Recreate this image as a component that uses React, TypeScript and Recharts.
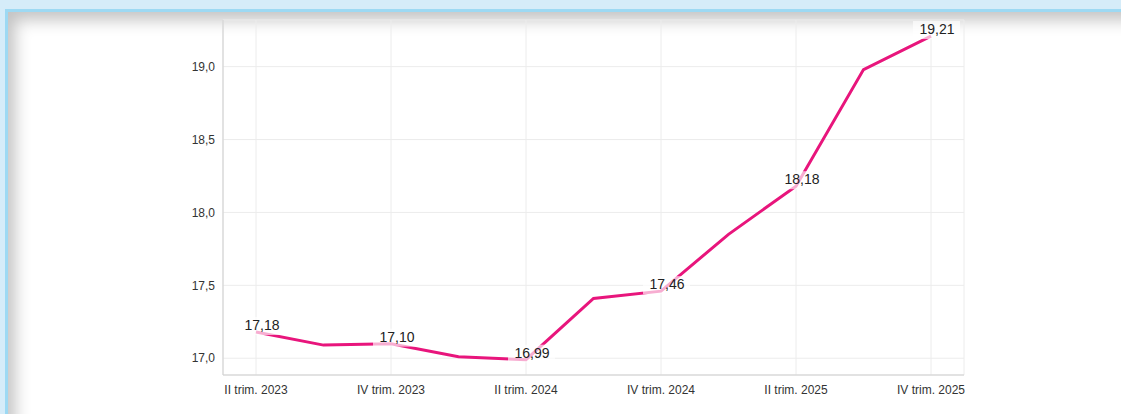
import { LineChart, Line, XAxis, YAxis, CartesianGrid } from 'recharts';

const QUARTERS = [
  'II trim. 2023', 'III trim. 2023', 'IV trim. 2023', 'I trim. 2024',
  'II trim. 2024', 'III trim. 2024', 'IV trim. 2024', 'I trim. 2025',
  'II trim. 2025', 'III trim. 2025', 'IV trim. 2025',
];
const VALUES = [17.18, 17.09, 17.1, 17.01, 16.99, 17.41, 17.46, 17.85, 18.18, 18.98, 19.21];
const X_TICKS = ['II trim. 2023', 'IV trim. 2023', 'II trim. 2024', 'IV trim. 2024', 'II trim. 2025', 'IV trim. 2025'];
const Y_TICKS = [17, 17.5, 18, 18.5, 19];

const data = QUARTERS.map((q, i) => ({ q, v: VALUES[i] }));

const fmt = (v: number, d: number) => v.toFixed(d).replace('.', ',');

// only every other point gets a label, on a soft white box
const PointLabel = (props: any) => {
  const { x, y, value, index } = props;
  if (index % 2 !== 0) return null;
  return (
    <g>
      <rect x={x - 18} y={y - 15} width={47} height={18} fill="#fff" fillOpacity={0.65} />
      <text x={x + 6} y={y - 2} textAnchor="middle" fontSize={14} fill="#222" fontFamily="'Liberation Sans', Arial, sans-serif">
        {fmt(value, 2)}
      </text>
    </g>
  );
};

const tickStyle = { fontSize: 12, fill: '#333', fontFamily: "'Liberation Sans', Arial, sans-serif" };

export default function App() {
  return (
    <div style={{ position: 'absolute', left: 0, top: 0, width: 1121, height: 414, background: '#d5ecf9', overflow: 'hidden' }}>
      <div
        style={{
          position: 'absolute', left: 5, top: 9, width: 1130, height: 420,
          background: '#fff', borderLeft: '3px solid #9dd9f3', borderTop: '3px solid #9dd9f3',
          boxShadow: 'inset 7px 8px 16px rgba(0,0,0,0.24)',
        }}
      />
      <div style={{ position: 'absolute', left: 0, top: 0 }}>
        <LineChart width={1121} height={414} data={data} margin={{ top: 20, right: 157, bottom: 9, left: 163 }}>
          <CartesianGrid stroke="#ececec" />
          <XAxis
            dataKey="q"
            ticks={X_TICKS}
            interval={0}
            height={30}
            padding={{ left: 33, right: 33 }}
            tickLine={false}
            stroke="#cfcfcf"
            tickMargin={4}
            tick={tickStyle}
          />
          <YAxis
            width={60}
            domain={[16.885, 19.32]}
            allowDataOverflow
            ticks={Y_TICKS}
            tickLine={false}
            stroke="#cfcfcf"
            tickFormatter={(v: number) => fmt(v, 1)}
            tick={tickStyle}
          />
          <Line
            type="linear"
            dataKey="v"
            stroke="#e8157c"
            strokeWidth={3}
            dot={false}
            activeDot={false}
            isAnimationActive={false}
            label={<PointLabel />}
          />
        </LineChart>
      </div>
    </div>
  );
}
